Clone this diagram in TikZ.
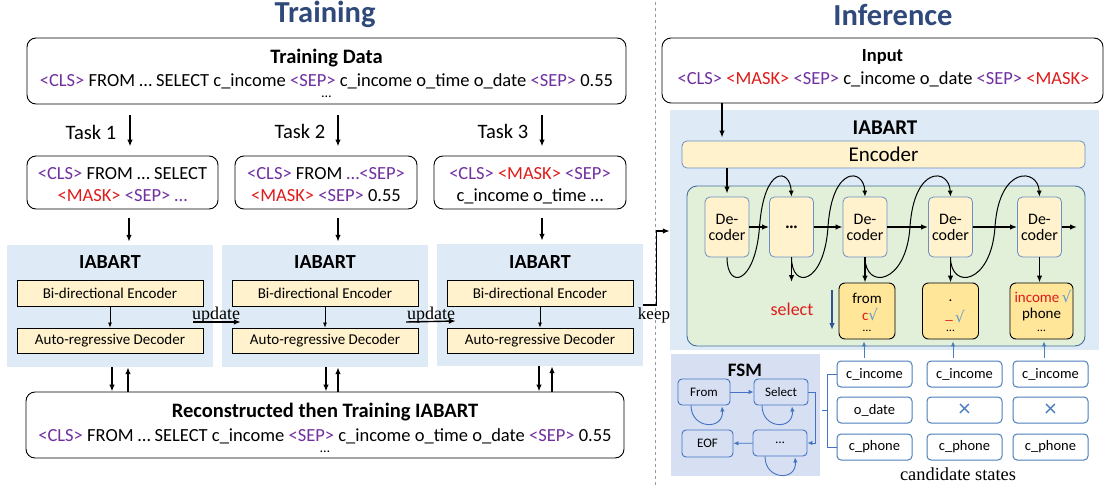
\documentclass[tikz,border=0pt]{standalone}
\usepackage{fontspec}
\setmainfont{Carlito}
\newfontfamily\tnr{Liberation Serif}
\newfontfamily\dv{DejaVu Sans}
\usetikzlibrary{arrows.meta,calc}
\definecolor{pur}{HTML}{7030A0}
\definecolor{rd}{HTML}{E01B1B}
\definecolor{navy}{HTML}{2F4A7A}
\definecolor{lbl}{HTML}{DEEAF6}
\definecolor{yel}{HTML}{FFF2CC}
\definecolor{encb}{HTML}{6D8FC7}
\definecolor{grn}{HTML}{E2EFD9}
\definecolor{gbord}{HTML}{41719C}
\definecolor{org}{HTML}{FFE699}
\definecolor{chk}{HTML}{5B9BD5}
\definecolor{fsmbg}{HTML}{D6E0F2}
\definecolor{fsmb}{HTML}{4472C4}
\definecolor{cb}{HTML}{4A7EBB}
\definecolor{selb}{HTML}{2F5597}
\newcommand\fs[1]{\fontsize{#1}{#1}\selectfont}
\newcommand\tCLS{\textcolor{pur}{<CLS>}}
\newcommand\tSEP{\textcolor{pur}{<SEP>}}
\newcommand\tMASK{\textcolor{rd}{<MASK>}}
\newcommand\chkm{\textcolor{chk}{\dv √}}
\begin{document}
\begin{tikzpicture}[x=1pt,y=-1pt,
  t/.style={inner sep=0pt,outer sep=0pt},
  rbox/.style={draw=black,line width=0.9pt,rounded corners=9pt,fill=white,inner sep=0pt},
  ybox/.style={draw=black,line width=0.9pt,fill=yel,inner sep=0pt,minimum width=186,font=\fs{15}},
  iab/.style={fill=lbl,inner sep=0pt},
  arr/.style={-{Latex[length=7pt,width=5.5pt]},line width=1.4pt},
  tarr/.style={-{Latex[length=5pt,width=4pt]},line width=0.7pt},
  barr/.style={-{Latex[length=5pt,width=4.5pt]},line width=0.9pt,draw=fsmb},
  dec/.style={draw=encb,line width=0.8pt,rounded corners=5pt,fill=yel,inner sep=0pt,minimum width=44,minimum height=60,align=center,font=\fs{16}},
  bb/.style={draw=black,line width=0.9pt,rounded corners=6pt,fill=org,inner sep=0pt,minimum height=56},
  st/.style={draw=fsmb,line width=0.9pt,rounded corners=4pt,inner sep=0pt,font=\fs{13}},
  cs/.style={draw=cb,line width=1pt,rounded corners=4pt,fill=white,inner sep=0pt,minimum width=75,minimum height=26,font=\fs{14.5}},
  xm/.style={text=cb,font=\fs{24}},
  curve/.style={-{Latex[length=6pt,width=5pt]},line width=1pt}]
\useasboundingbox (0,0) rectangle (1115,489);

% ---------- titles and divider
\node[t,text=navy,font=\fs{30.5}\bfseries] (ttrain) at (325,14) {Training};
\node[t,text=navy,font=\fs{30.5}\bfseries] (tinf) at (893,15) {Inference};
\draw[gray!80,dashed,line width=0.6pt] (655,2) -- (655,487);

% ---------- training data
\node[rbox,minimum width=599,minimum height=66] (td) at (326.5,71) {};
\node[t,font=\fs{20.5}\bfseries] (tdt) at (326.5,58) {Training Data};
\node[t,font=\fs{18.5}] (tdl) at (326.5,81.5) {\tCLS{} FROM … SELECT c\_income \tSEP{} c\_income o\_time o\_date \tSEP{} 0.55};
\node[t,font=\fs{14}] (tdd) at (326.5,97) {…};

% ---------- tasks
\coordinate (k1) at (130,0);
\coordinate (k2) at (338,0);
\coordinate (k3) at (542,0);
\node[t,font=\fs{20.5}] (tk1) at (91,132) {Task 1};
\node[t,font=\fs{20.5}] (tk2) at (300,131) {Task 2};
\node[t,font=\fs{20.5}] (tk3) at (503,131) {Task 3};
\node[rbox,minimum width=191,minimum height=53] (tb1) at (122.5,182.5) {};
\node[rbox,minimum width=182,minimum height=53] (tb2) at (326,182.5) {};
\node[rbox,minimum width=192,minimum height=53] (tb3) at (530,182.5) {};
\draw[arr,shorten <=11pt,shorten >=9pt] (td.south -| k1) -- (tb1.north -| k1);
\draw[arr,shorten <=11pt,shorten >=9pt] (td.south -| k2) -- (tb2.north -| k2);
\draw[arr,shorten <=11pt,shorten >=9pt] (td.south -| k3) -- (tb3.north -| k3);
\node[t,font=\fs{18.5}] (tb1a) at (122.5,173.5) {\tCLS{} FROM … SELECT};
\node[t,font=\fs{18.5}] (tb1b) at (122.5,196) {\tMASK{} \tSEP{} \textcolor{pur}{…}};
\node[t,font=\fs{18.5}] (tb2a) at (326,173.5) {\tCLS{} FROM \textcolor{pur}{…<SEP>}};
\node[t,font=\fs{18.5}] (tb2b) at (326,196) {\tMASK{} \tSEP{} 0.55};
\node[t,font=\fs{18.5}] (tb3a) at (530,173.5) {\tCLS{} \tMASK{} \tSEP{}};
\node[t,font=\fs{18.5}] (tb3b) at (530,196) {c\_income o\_time …};

% ---------- IABART training blocks
\coordinate (m1) at (129,0);
\node[iab,minimum width=206,minimum height=122] (ib1) at (110,306) {};
\node[iab,minimum width=206,minimum height=122] (ib2) at (325,306) {};
\node[iab,minimum width=206,minimum height=122] (ib3) at (540,305) {};
\draw[arr,shorten <=9pt,shorten >=3pt] (tb1.south -| m1) -- (ib1.north -| m1);
\draw[arr,shorten <=9pt,shorten >=3pt] (tb2.south -| k2) -- (ib2.north -| k2);
\draw[arr,shorten <=9pt,shorten >=3pt] (tb3.south -| k3) -- (ib3.north -| k3);
\foreach \i/\x in {1/110,2/325,3/540}{
  \node[t,font=\fs{20}\bfseries] (it\i) at (\x,262) {IABART};
  \node[ybox,minimum height=26] (en\i) at (\x,293) {Bi-directional Encoder};
  \node[ybox,minimum height=25] (de\i) at (\x,340.5) {Auto-regressive Decoder};
  \draw[tarr] (en\i) -- (de\i);
}
\draw[arr] ($(ib1.east)+(-20,16)$) -- ($(ib2.west)+(19,16)$);
\draw[arr] ($(ib2.east)+(-22,16)$) -- ($(ib3.west)+(19,16)$);
\node[t,font=\tnr\fs{18},anchor=base] (up1) at (216,319) {update};
\node[t,font=\tnr\fs{18},anchor=base] (up2) at (431,319) {update};

% ---------- reconstructed
\node[rbox,minimum width=598,minimum height=66] (rec) at (325,425) {};
\node[t,font=\fs{20.5}\bfseries] (rect) at (325,412) {Reconstructed then Training IABART};
\node[t,font=\fs{18.5}] (recl) at (325,436.5) {\tCLS{} FROM … SELECT c\_income \tSEP{} c\_income o\_time o\_date \tSEP{} 0.55};
\node[t,font=\fs{14}] (recd) at (325,452) {…};
\coordinate (p1d) at (112,0); \coordinate (p1u) at (128,0);
\coordinate (p2d) at (326,0); \coordinate (p2u) at (338,0);
\coordinate (p3d) at (539,0); \coordinate (p3u) at (552,0);
\foreach \i in {1,2,3}{
  \draw[arr] (ib\i.south -| p\i d) -- (rec.north -| p\i d);
  \draw[arr] (rec.north -| p\i u) -- (ib\i.south -| p\i u);
}

% ---------- inference
\node[rbox,minimum width=441,minimum height=65] (inp) at (882.5,70.5) {};
\node[t,font=\fs{18.5}\bfseries] (inpt) at (882.5,57) {Input};
\node[t,font=\fs{18.5}] (inpl) at (883.5,79.5) {\tCLS{} \tMASK{} \tSEP{} c\_income o\_date \tSEP{} \tMASK{}};
\node[iab,minimum width=429,minimum height=240] (bia) at (884.5,230) {};
\node[t,font=\fs{21}\bfseries] (biat) at (885,128) {IABART};
\node[draw=encb,line width=0.8pt,rounded corners=5pt,fill=yel,inner sep=0pt,minimum width=403,minimum height=27,font=\fs{21}] (enc) at (883.5,154.5) {Encoder};
\coordinate (q1) at (722,0);
\draw[arr,shorten >=3pt] (inp.south -| q1) -- (enc.north -| q1);
\node[draw=gbord,line width=0.9pt,rounded corners=10pt,fill=grn,inner sep=0pt,minimum width=398,minimum height=160] (gr) at (886,266) {};

% keep connector
\draw[arr] (ib3.east) -- ++(13,0) |- ($(bia.west)+(0,1)$);
\node[t,font=\tnr\fs{17},anchor=base] (kp) at (654,319) {keep};

\node[dec] (d1) at (727,227) {De-\\coder};
\node[dec,font=\fs{18}\bfseries] (dd) at (791.5,227) {…};
\node[dec] (d2) at (865,227) {De-\\coder};
\node[dec] (d3) at (950.5,227) {De-\\coder};
\node[dec] (d4) at (1039.5,227) {De-\\coder};
\draw[arr,shorten >=3pt] (enc.south -| d1) -- (d1.north);
\draw[arr] (d1) -- (dd);
\draw[arr] (dd) -- (d2);
\draw[arr] (d2) -- (d3);
\draw[arr] (d3) -- (d4);
\coordinate (dout) at (1077,227);
\draw[arr] (d4) -- (dout);

% S-shaped recurrences
\draw[curve] (d1.south) .. controls (727,290) and (755,285) .. (759.5,227) .. controls (764,165) and (790,168) .. (dd.north);
\draw[curve] (dd.south) .. controls (791.5,290) and (824,285) .. (828,227) .. controls (832,165) and (864,168) .. (d2.north);
\draw[curve] (d2.south) .. controls (865,290) and (906,285) .. (910,227) .. controls (914,165) and (949,168) .. (d3.north);
\draw[curve] (d3.south) .. controls (950.5,290) and (991,285) .. (995,227) .. controls (999,165) and (1038,168) .. (d4.north);

% candidate word boxes
\node[bb,minimum width=56] (b1) at (867,311) {};
\node[bb,minimum width=56] (b2) at (950.5,311) {};
\node[bb,minimum width=63] (b3) at (1041.5,311) {};
\coordinate (ddo) at (791.5,282);
\draw[arr] (dd.south) -- (ddo);
\draw[arr] (d2.south) -- (d2.south |- b1.north);
\draw[arr] (d3.south) -- (d3.south |- b2.north);
\draw[arr] (d4.south) -- (d4.south |- b3.north);
\node[t,font=\fs{15}] (b1a) at (867,298) {from};
\node[t,font=\fs{15}] (b1b) at (870,315) {\textcolor{rd}{c}\chkm};
\node[t,font=\fs{12}] (b1c) at (867,331) {…};
\node[t,font=\fs{15}] (b2a) at (950.5,301) {.};
\node[t,font=\fs{15}] (b2b) at (955,317) {\textcolor{rd}{\raisebox{3pt}{\_}}\,\chkm};
\node[t,font=\fs{12}] (b2c) at (950.5,331) {…};
\node[t,font=\fs{15}] (b3a) at (1043,297) {\textcolor{rd}{income}\,\chkm};
\node[t,font=\fs{15}] (b3b) at (1041.5,314) {phone};
\node[t,font=\fs{12}] (b3c) at (1041.5,331) {…};
\node[t,font=\fs{18},text=rd] (sel) at (792,309) {select};
\coordinate (sa1) at (832,290);
\coordinate (sa2) at (832,330);
\draw[arr,draw=selb,line width=1.3pt] (sa1) -- (sa2);

% ---------- FSM
\node[fill=fsmbg,inner sep=0pt,minimum width=149,minimum height=122] (fsm) at (745.5,415) {};
\node[t,font=\fs{19}\bfseries] (fsmt) at (745,370) {FSM};
\node[st,minimum width=52,minimum height=26] (fr) at (704,392) {From};
\node[st,minimum width=54,minimum height=26] (se) at (781,392) {Select};
\node[st,minimum width=51,minimum height=27] (eof) at (707.5,443.5) {EOF};
\node[st,minimum width=54,minimum height=26] (dt) at (780,443) {…};
\draw[barr] (fr) -- (se);
\draw[barr] (se.east) -- ++(7,0) |- (dt.east);
\draw[barr] (dt) -- (eof);
\draw[barr] ($(fr.south)+(-13,0)$) .. controls +(0,24) and +(2,24) .. ($(fr.south)+(18,1)$);
\draw[barr] ($(se.south)+(-19,0)$) .. controls +(0,24) and +(2,24) .. ($(se.south)+(11,1)$);
\draw[barr] ($(dt.south)+(-15,0)$) .. controls +(0,24) and +(2,24) .. ($(dt.south)+(15,1)$);

% ---------- candidate states
\node[cs] (c11) at (874.5,374) {c\_income};
\node[cs] (c21) at (874.5,410) {o\_date};
\node[cs] (c31) at (874.5,447) {c\_phone};
\node[cs] (c12) at (964.5,374) {c\_income};
\node[cs,xm] (c22) at (964.5,410) {×};
\node[cs] (c32) at (964.5,447) {c\_phone};
\node[cs] (c13) at (1050.5,374) {c\_income};
\node[cs,xm] (c23) at (1050.5,410) {×};
\node[cs] (c33) at (1050.5,447) {c\_phone};
\draw[draw=fsmb,line width=1pt] (c11.west) -- ++(-9,0) |- (c31.west);
\draw[draw=fsmb,line width=1pt] ($(c11.west)!0.5!(c31.west)+(-9,0)$) -- ++(-6,0);
\coordinate (u1) at (864,358);
\coordinate (u2) at (953,358);
\coordinate (u3) at (1044,358);
\draw[barr,draw=cb,line width=0.8pt,shorten >=2pt] (u1) -- (u1 |- b1.south);
\draw[barr,draw=cb,line width=0.8pt,shorten >=2pt] (u2) -- (u2 |- b2.south);
\draw[barr,draw=cb,line width=0.8pt,shorten >=2pt] (u3) -- (u3 |- b3.south);
\node[t,font=\tnr\fs{18.4}] (cst) at (958,474) {candidate states};
\end{tikzpicture}
\end{document}
